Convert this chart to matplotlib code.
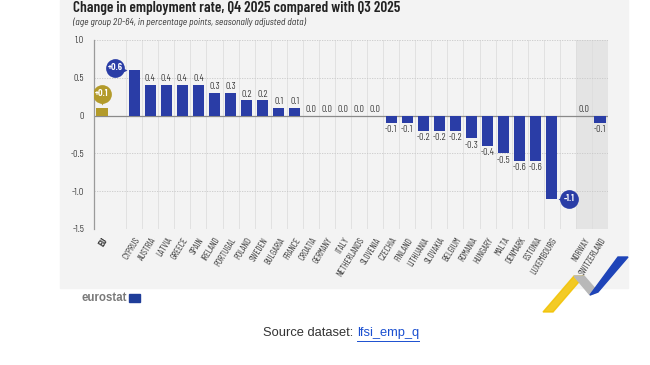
import matplotlib
matplotlib.use("Agg")
import matplotlib.pyplot as plt
from matplotlib.patches import Rectangle, Polygon
from matplotlib.lines import Line2D

# ---------------- data ----------------
eu_label = "EU"
eu_value = 0.1
eu_countries = ["CYPRUS", "AUSTRIA", "LATVIA", "GREECE", "SPAIN", "IRELAND", "PORTUGAL",
                "POLAND", "SWEDEN", "BULGARIA", "FRANCE", "CROATIA", "GERMANY", "ITALY",
                "NETHERLANDS", "SLOVENIA", "CZECHIA", "FINLAND", "LITHUANIA", "SLOVAKIA",
                "BELGIUM", "ROMANIA", "HUNGARY", "MALTA", "DENMARK", "ESTONIA", "LUXEMBOURG"]
eu_values = [0.6, 0.4, 0.4, 0.4, 0.4, 0.3, 0.3, 0.2, 0.2, 0.1, 0.1, 0.0, 0.0, 0.0, 0.0, 0.0,
             -0.1, -0.1, -0.2, -0.2, -0.2, -0.3, -0.4, -0.5, -0.6, -0.6, -1.1]
efta_countries = ["NORWAY", "SWITZERLAND"]
efta_values = [0.0, -0.1]
y_ticks = [1.0, 0.5, 0.0, -0.5, -1.0, -1.5]
y_tick_labels = ["1.0", "0.5", "0", "-0.5", "-1.0", "-1.5"]
title = "Change in employment rate, Q4 2025 compared with Q3 2025"
subtitle = "(age group 20-64, in percentage points, seasonally adjusted data)"

# ---------------- style ----------------
COND = ["Barlow Condensed", "Liberation Sans Narrow", "DejaVu Sans"]
SEMI = ["Barlow Semi Condensed", "Liberation Sans Narrow", "DejaVu Sans"]
ARIAL = ["Liberation Sans", "DejaVu Sans"]
BLUE = "#2a3da6"
GOLD = "#b39b2b"
PANEL = "#f3f3f3"
TXT = "#333333"

W, H = 650, 365
fig = plt.figure(figsize=(W / 100, H / 100), dpi=100)
fig.patch.set_facecolor("white")

def fx(px):
    return px / W

def fy(py):
    return 1 - py / H

# panel background
fig.patches.append(Rectangle((fx(60), fy(288)), fx(628) - fx(60), fy(0) - fy(288),
                             transform=fig.transFigure, color=PANEL, zorder=-10))

# positions: EU, gap, EU countries, gap, EFTA
x_eu = 0
x_ctry = [2 + i for i in range(len(eu_countries))]
x_efta = [x_ctry[-1] + 2 + i for i in range(len(efta_countries))]

ax = fig.add_axes([fx(94), fy(229), fx(608) - fx(94), fy(40) - fy(229)])
ax.set_facecolor(PANEL)
ax.set_xlim(-0.5, x_efta[-1] + 0.5)
ax.set_ylim(-1.5, 1.0)

# shaded EFTA region
ax.axvspan(x_efta[0] - 0.5, x_efta[-1] + 0.5, color="#e4e4e4", zorder=0, lw=0)

# vertical gridlines
for b in range(1, x_efta[-1]):
    ax.axvline(b + 0.5, color="#dedede", lw=0.6, zorder=0.5)
# horizontal gridlines
for yv in [1.0, 0.5, -0.5, -1.0]:
    ax.axhline(yv, color="#c8c8c8", lw=0.6, ls=(0, (1.5, 1.5)), zorder=0.6)
ax.axhline(0, color="#8a8a8a", lw=0.9, zorder=1)

bw = 0.7
ax.bar([x_eu], [eu_value], width=bw, color=GOLD, zorder=2)
ax.bar(x_ctry, eu_values, width=bw, color=BLUE, zorder=2)
ax.bar(x_efta, efta_values, width=bw, color=BLUE, zorder=2)

# value labels
lab_kw = dict(fontsize=6.4, color=TXT, family=SEMI, ha="center", zorder=3)
special = {eu_countries[0], eu_countries[-1]}
for name, x, v in list(zip(eu_countries, x_ctry, eu_values)) + list(zip(efta_countries, x_efta, efta_values)):
    if name in special:
        continue
    if v >= 0:
        ax.text(x, v + 0.025, f"{v:.1f}", va="bottom", **lab_kw)
    else:
        ax.text(x, v - 0.03, f"{v:.1f}", va="top", **lab_kw)

# bubbles
def bubble(x, y, text, color, px, py, pm):
    ax.plot([px], [py], marker=pm, color=color, ms=4.5, zorder=4, mec="none")
    ax.plot([x], [y], marker="o", color=color, ms=13.5, zorder=4.5, mec="none")
    ax.text(x, y, text, ha="center", va="center", fontsize=6.3, color="white",
            fontweight="bold", family=SEMI, zorder=5)

bubble(x_eu, eu_value + 0.19, f"+{eu_value:.1f}", GOLD, x_eu, eu_value + 0.08, "v")
bubble(x_ctry[0] - 1.2, eu_values[0] + 0.03, f"+{eu_values[0]:.1f}", BLUE, x_ctry[0] - 0.65, eu_values[0] + 0.0, ">")
bubble(x_ctry[-1] + 1.1, eu_values[-1], f"{eu_values[-1]:.1f}", BLUE, x_ctry[-1] + 0.55, eu_values[-1], "<")

# axes styling
for s in ["top", "right", "bottom"]:
    ax.spines[s].set_visible(False)
ax.spines["left"].set_color("#9a9a9a")
ax.spines["left"].set_linewidth(0.9)
ax.set_yticks(y_ticks)
ax.set_yticklabels(y_tick_labels, fontsize=6.4, color=TXT, family=SEMI)
ax.tick_params(axis="y", length=0, pad=7)
ax.set_xticks([x_eu] + x_ctry + x_efta)
ax.set_xticklabels([eu_label] + eu_countries + efta_countries, rotation=58, ha="right",
                   va="top", rotation_mode="anchor", fontsize=6.6, color="#3a3a3a", family=COND)
ax.get_xticklabels()[0].set_fontweight("bold")
ax.tick_params(axis="x", length=0, pad=5)

# titles
t_title = fig.text(fx(73), fy(8), title, fontsize=11.5, fontweight="semibold", color="#222222",
                   family=COND, va="center", ha="left")
fig.canvas.draw()
wpx = t_title.get_window_extent().width
t_title.set_fontsize(11.5 * 327 / wpx)
t_sub = fig.text(fx(73), fy(22), subtitle, fontsize=6.0, style="italic", color=TXT,
                 family=SEMI, va="center", ha="left")
fig.canvas.draw()
wsub = t_sub.get_window_extent().width
t_sub.set_fontsize(6.0 * 232 / wsub)

# eurostat logo
t_logo = fig.text(fx(82), fy(298), "eurostat", fontsize=8.3, fontweight="bold", color="#7a7a7a",
                  va="center", ha="left", family=ARIAL)
fig.canvas.draw()
lx = t_logo.get_window_extent().x1 + 1
fig.patches.append(Rectangle((lx / W, fy(302)), fx(11), fy(294) - fy(302),
                             transform=fig.transFigure, color="#1f3d99", zorder=2))

# decorative ribbon
fig.patches.append(Polygon([(fx(543), fy(312)), (fx(553), fy(312)), (fx(584), fy(276)), (fx(574), fy(276))],
                           closed=True, transform=fig.transFigure, color="#f2c200", alpha=0.85, zorder=1))
fig.patches.append(Polygon([(fx(574), fy(276)), (fx(584), fy(276)), (fx(598), fy(292)), (fx(590), fy(295))],
                           closed=True, transform=fig.transFigure, color="#b8b8b8", zorder=1))
fig.patches.append(Polygon([(fx(590), fy(295)), (fx(598), fy(292)), (fx(628), fy(257)), (fx(618), fy(257))],
                           closed=True, transform=fig.transFigure, color="#1e44b8", zorder=1))

# source line
t1 = fig.text(fx(263), fy(333), "Source dataset: ", fontsize=9.3, color=TXT, va="center", ha="left",
              family=ARIAL)
fig.canvas.draw()
bb = t1.get_window_extent()
t2 = fig.text(bb.x1 / W, fy(333), "lfsi_emp_q", fontsize=9.3, color="#1a4fd0", va="center", ha="left",
              family=ARIAL)
fig.canvas.draw()
bb2 = t2.get_window_extent()
fig.lines.append(Line2D([bb2.x0 / W, bb2.x1 / W], [fy(341), fy(341)], transform=fig.transFigure,
                        color="#1a4fd0", lw=0.7))

fig.savefig("out.png", dpi=100, facecolor="white")
